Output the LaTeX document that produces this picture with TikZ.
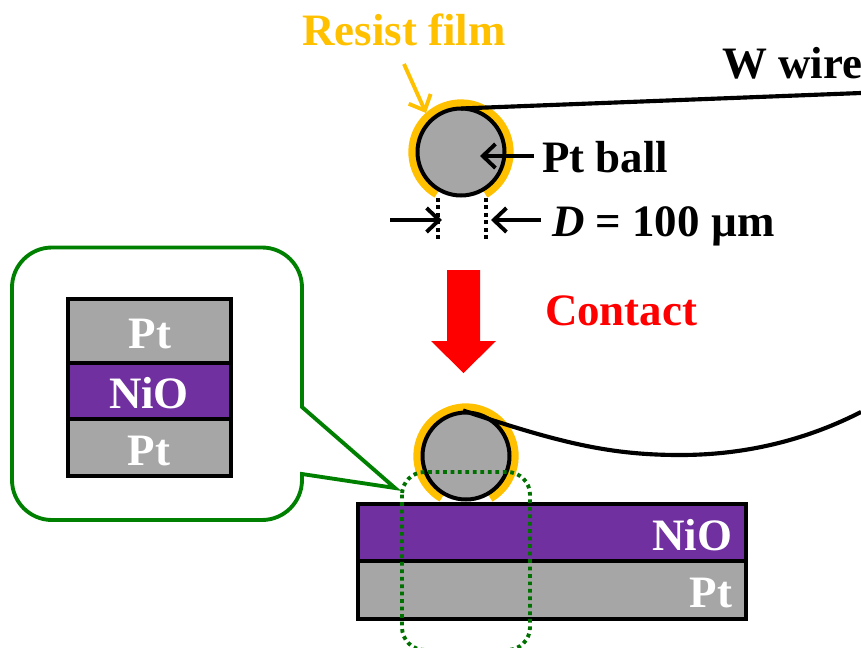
\documentclass[tikz,border=0pt]{standalone}
\usepackage{fontspec}
\setmainfont{Liberation Serif}
\usetikzlibrary{arrows.meta}
\definecolor{resist}{HTML}{FFC000}
\definecolor{metal}{HTML}{A6A6A6}
\definecolor{oxide}{HTML}{7030A0}
\definecolor{bubblegreen}{HTML}{008000}
\def\ux{0.75pt}
\tikzset{
  x=0.75pt,y=-0.75pt,
  label text/.style={inner sep=0pt,outer sep=0pt,font=\fontsize{33.7pt}{36pt}\selectfont\bfseries},
  ball/.style={circle,draw=black,line width=3pt,fill=metal,minimum size=87*\ux,inner sep=0pt,outer sep=0pt},
  coat/.style={draw=resist,line width=7pt},
  layer/.style={rectangle,draw=black,line width=3pt,inner sep=0pt,outer sep=0pt},
  wire/.style={draw=black,line width=3.1pt},
  barb/.style={line width=2.9pt,-{Straight Barb[length=9.5pt,width=18pt,line width=2.9pt]}},
  gap mark/.style={draw=black,line width=3pt,dash pattern=on 2.8pt off 2.8pt},
  zoom box/.style={draw=bubblegreen!88!black,line width=2.9pt,dash pattern=on 2.8pt off 2.8pt,rounded corners=17pt},
}
\begin{document}
\begin{tikzpicture}
\useasboundingbox (0,0) rectangle (861,647);
% callout
\draw[draw=bubblegreen,line width=2.9pt,fill=white,line join=miter]
  (302,407) -- (395,488) -- (302,474)
  [rounded corners=30pt] -- (302,520) -- (12,520) -- (12,247.5) -- (302,247.5)
  [sharp corners] -- (302,407) -- cycle;
% stack inside callout
\node[layer,fill=metal,minimum width=163*\ux,minimum height=64*\ux,anchor=north west] (s1) at (68,299) {};
\node[layer,fill=oxide,minimum width=163*\ux,minimum height=56*\ux,anchor=north] (s2) at (s1.south) {};
\node[layer,fill=metal,minimum width=163*\ux,minimum height=57*\ux,anchor=north] (s3) at (s2.south) {};
\node[label text,text=white,anchor=base] (s1t) at (150,348) {Pt};
\node[label text,text=white,anchor=base] (s2t) at (149,408) {NiO};
\node[label text,text=white,anchor=base] (s3t) at (149,465) {Pt};
% top ball
\draw[coat] (461,152) ++(-24,41.6) arc[start angle=240,end angle=-60,radius=36pt];
\node[ball] (b1) at (461,152) {};
\coordinate (w1s) at (461,108.5);
\coordinate (w1e) at (861,93);
\draw[wire] (w1s) -- (w1e);
% top labels
\node[label text,text=resist,anchor=base] (rf) at (404,45) {Resist film};
\node[label text,anchor=base west] (ww) at (722,78) {W wire};
\node[label text,anchor=base west] (pb) at (542,172) {Pt ball};
\node[label text,anchor=base west] (dd) at (552,236) {\textit{D} = 100 µm};
\node[label text,text=red,anchor=base west] (ct) at (545,325) {Contact};
% arrows
\coordinate (rfa) at (404,64);
\coordinate (rfb) at (426,113);
\draw[barb,draw=resist] (rfa) -- (rfb);
\coordinate (pba) at (534,156);
\coordinate (pbb) at (480,156);
\draw[barb] (pba) -- (pbb);
\coordinate (da) at (390,220);
\coordinate (db) at (442,220);
\draw[barb] (da) -- (db);
\coordinate (dc) at (541,220);
\coordinate (de) at (491,220);
\draw[barb] (dc) -- (de);
\coordinate (g1a) at (438,198);
\coordinate (g1b) at (438,242);
\coordinate (g2a) at (486,198);
\coordinate (g2b) at (486,242);
\draw[gap mark] (g1a) -- (g1b);
\draw[gap mark] (g2a) -- (g2b);
% red arrow
\fill[red] (447,270) -- (480,270) -- (480,341) -- (496,341) -- (463.5,373) -- (431,341) -- (447,341) -- cycle;
% bottom ball
\draw[coat] (466,456) ++(-24,41.6) arc[start angle=240,end angle=-60,radius=36pt];
\node[ball] (b2) at (466,456) {};
\coordinate (w2s) at (463,410.5);
\coordinate (w2m) at (680,455);
\coordinate (w2e) at (861,412);
\draw[wire] (w2s) .. controls (560,443) and (610,455) .. (w2m) .. controls (750,455) and (810,438) .. (w2e);
% substrate
\node[layer,fill=oxide,minimum width=388*\ux,minimum height=57*\ux,anchor=north west] (nio) at (358,504) {};
\node[layer,fill=metal,minimum width=388*\ux,minimum height=58*\ux,anchor=north] (pt) at (nio.south) {};
\node[label text,text=white,anchor=base east] (niot) at (732,550) {NiO};
\node[label text,text=white,anchor=base east] (ptt) at (732,607) {Pt};
% zoom box
\draw[zoom box] (402,472) rectangle (530,650);
\end{tikzpicture}
\end{document}
